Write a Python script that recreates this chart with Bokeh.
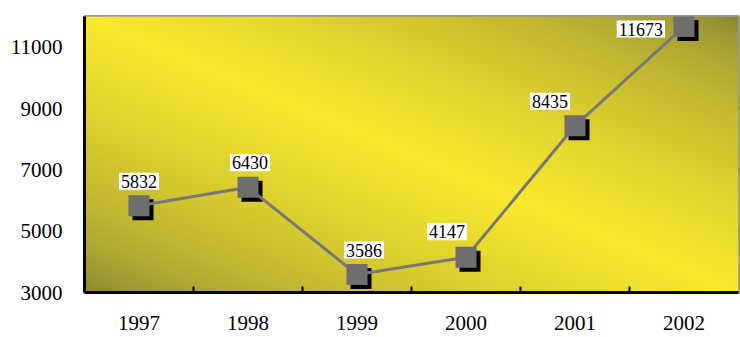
import numpy as np
from bokeh.plotting import figure
from bokeh.models import ColumnDataSource, Range1d, FixedTicker
from bokeh.core.properties import value
from bokeh.transform import dodge
from bokeh.embed import file_html
from bokeh.resources import INLINE

# ---- data ----
years = ["1997", "1998", "1999", "2000", "2001", "2002"]
values = [5832, 6430, 3586, 4147, 8435, 11673]
y_ticks = [3000, 5000, 7000, 9000, 11000]

# label style offsets (pixels)
label_dx = [0, 2, 7, -19, -25, -19]
label_dy = [16, 16, 16, 17, 16, -11]
label_align = ["center", "center", "center", "center", "center", "right"]

FONT = "Liberation Serif"
W, H = 740, 337
L, R, T, B = 84, 2, 16, 45

p = figure(width=W, height=H, output_backend="svg", toolbar_location=None,
           x_range=Range1d(-0.5, len(years) - 0.5), y_range=Range1d(3000, 12000),
           min_border_left=L, min_border_right=R, min_border_top=T, min_border_bottom=B)
p.background_fill_color = "white"
p.border_fill_color = "white"
p.outline_line_color = "#9a9a9a"
p.outline_line_width = 3

# gradient background image
fw, fh = W - L - R, H - T - B
u = np.linspace(0, 1, fw)[None, :]
v = np.linspace(0, 1, fh)[:, None]  # 0 at bottom
s = (u + v) / 2.0
f = 1 - np.abs(2 * s - 1)
f = np.clip(f, 0, 1) ** 0.6
dark = np.array([132, 130, 54], dtype=float)
bright = np.array([250, 233, 44], dtype=float)
rgb = dark[None, None, :] + (bright - dark)[None, None, :] * f[:, :, None]
img = np.empty((fh, fw), dtype=np.uint32)
view = img.view(dtype=np.uint8).reshape((fh, fw, 4))
view[:, :, 0] = rgb[:, :, 0].astype(np.uint8)
view[:, :, 1] = rgb[:, :, 1].astype(np.uint8)
view[:, :, 2] = rgb[:, :, 2].astype(np.uint8)
view[:, :, 3] = 255
p.image_rgba(image=[img], x=-0.5, y=3000, dw=len(years), dh=9000)

src = ColumnDataSource(dict(x=list(range(len(years))), y=values,
                            label=[str(v_) for v_ in values],
                            dx=label_dx, dy=[-d for d in label_dy], align=label_align))

# grid
p.xgrid.grid_line_color = None
p.ygrid.ticker = FixedTicker(ticks=y_ticks)
p.ygrid.grid_line_color = "black"
p.ygrid.grid_line_width = 2.5
p.ygrid.level = "image"

# axes
p.yaxis.ticker = FixedTicker(ticks=y_ticks)
p.yaxis.axis_line_color = "black"
p.yaxis.axis_line_width = 3
p.yaxis.major_tick_line_color = None
p.yaxis.minor_tick_line_color = None
p.yaxis.major_label_text_font = FONT
p.yaxis.major_label_text_font_size = "21px"
p.yaxis.major_label_text_color = "black"
p.yaxis.major_label_standoff = 16

p.xaxis.ticker = FixedTicker(ticks=list(range(len(years))),
                             minor_ticks=[i + 0.5 for i in range(len(years) - 1)])
p.xaxis.major_label_overrides = {i: y for i, y in enumerate(years)}
p.xaxis.axis_line_color = "black"
p.xaxis.axis_line_width = 3
p.xaxis.major_tick_line_color = None
p.xaxis.minor_tick_line_color = "black"
p.xaxis.minor_tick_line_width = 2
p.xaxis.minor_tick_in = 6
p.xaxis.minor_tick_out = 0
p.xaxis.major_label_text_font = FONT
p.xaxis.major_label_text_font_size = "21px"
p.xaxis.major_label_text_color = "black"
p.xaxis.major_label_standoff = 17

# shadow, line, markers
px_x = len(years) / fw
px_y = 9000 / fh
p.scatter(x=dodge("x", 4 * px_x), y=dodge("y", -4 * px_y), source=src, marker="square",
          size=21, fill_color="black", line_color=None)
p.line(x="x", y="y", source=src, line_color="#777777", line_width=3)
p.scatter(x="x", y="y", source=src, marker="square", size=21,
          fill_color="#6e6e6e", line_color=None)

p.text(x="x", y="y", text="label", source=src, x_offset="dx", y_offset="dy",
       text_align="align", text_baseline="bottom",
       text_font=value(FONT), text_font_size="18px", text_color="black",
       background_fill_color="white", padding=2)

open("out.html", "w").write(file_html(p, INLINE))
